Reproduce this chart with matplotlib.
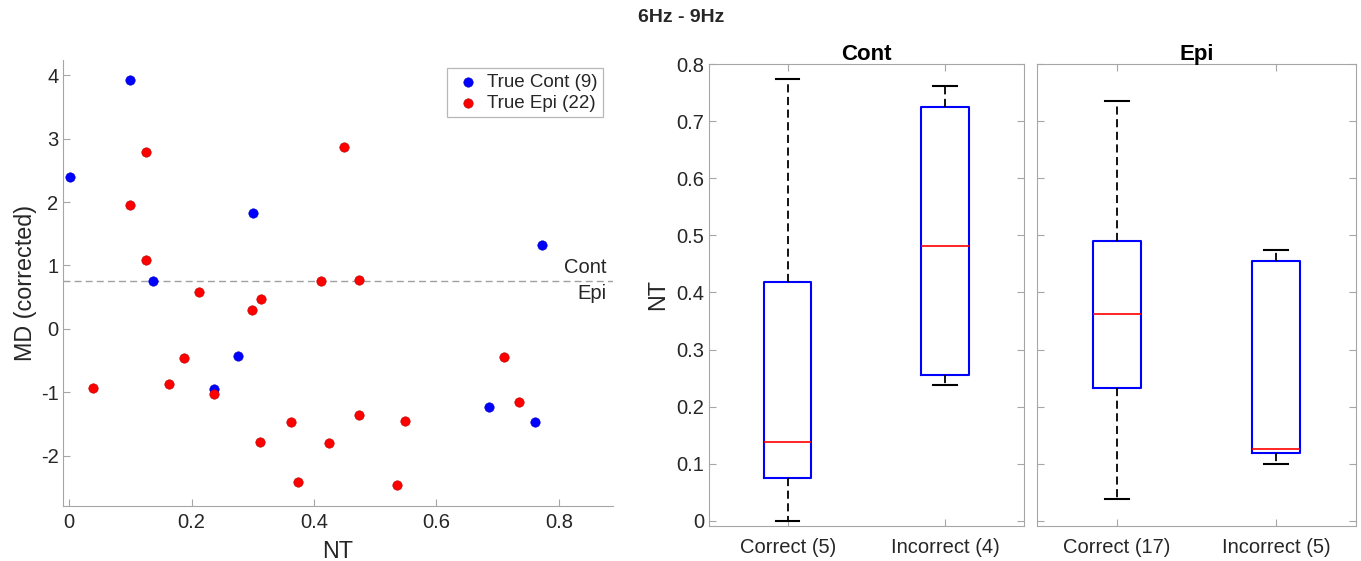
import matplotlib
matplotlib.use("Agg")
import matplotlib.pyplot as plt

plt.rcParams['font.family'] = ['Liberation Sans', 'DejaVu Sans']

# ---------------- data ----------------
cont_nt = [0.001, 0.100, 0.137, 0.300, 0.773, 0.275, 0.237, 0.686, 0.761]
cont_md = [2.39, 3.93, 0.76, 1.83, 1.32, -0.425, -0.945, -1.23, -1.465]

epi_nt = [0.125, 0.100, 0.125, 0.2125, 0.299, 0.313, 0.411, 0.474, 0.449,
          0.038, 0.163, 0.187, 0.237, 0.362, 0.312, 0.374, 0.424, 0.474,
          0.549, 0.536, 0.711, 0.735]
epi_md = [2.79, 1.96, 1.087, 0.588, 0.304, 0.472, 0.76, 0.77, 2.86,
          -0.94, -0.87, -0.46, -1.035, -1.465, -1.78, -2.42, -1.80, -1.36,
          -1.45, -2.46, -0.44, -1.16]

threshold = 0.76
legend_labels = ['True Cont (9)', 'True Epi (22)']

box_titles = ['Cont', 'Epi']
box_xlabels = [['Correct (5)', 'Incorrect (4)'], ['Correct (17)', 'Incorrect (5)']]
box_whislo = [[0.0, 0.238], [0.038, 0.100]]
box_q1 = [[0.0754, 0.256], [0.232, 0.1194]]
box_med = [[0.1378, 0.4815], [0.362, 0.1253]]
box_q3 = [[0.418, 0.7243], [0.4898, 0.456]]
box_whishi = [[0.7735, 0.7616], [0.736, 0.474]]

# ---------------- figure ----------------
W, H = 1361, 561
fig = plt.figure(figsize=(W / 100, H / 100), dpi=100)

def ax_rect(x0, x1, ytop, ybot):
    return [x0 / W, 1 - ybot / H, (x1 - x0) / W, (ybot - ytop) / H]

spine_c = '#a6a6a6'
text_c = '#262626'
fs = 14.5
lfs = 16.8

# scatter
ax = fig.add_axes(ax_rect(63.3, 612.7, 60, 505.7))
ax.scatter(cont_nt, cont_md, s=46, c='#0000ff', edgecolors='#0000c0', linewidths=0.4,
           zorder=3, label=legend_labels[0])
ax.scatter(epi_nt, epi_md, s=46, c='#ff0000', edgecolors='#b00000', linewidths=0.4,
           zorder=3, label=legend_labels[1])
ax.axhline(threshold, color='#a0a0a0', lw=1.0, ls=(0, (5, 3)), zorder=1)
ax.set_xlim(-0.0098, 0.888)
ax.set_ylim(-2.79, 4.24)
ax.set_xticks([0, 0.2, 0.4, 0.6, 0.8])
ax.set_xticklabels(['0', '0.2', '0.4', '0.6', '0.8'])
ax.set_yticks([-2, -1, 0, 1, 2, 3, 4])
ax.set_yticklabels(['-2', '-1', '0', '1', '2', '3', '4'])
for s in ['top', 'right']:
    ax.spines[s].set_visible(False)
for s in ['left', 'bottom']:
    ax.spines[s].set_color(spine_c)
ax.tick_params(direction='in', length=5, color=spine_c, labelsize=fs, labelcolor=text_c)
ax.tick_params(axis='x', pad=5)
ax.set_xlabel('NT', fontsize=lfs, color=text_c, labelpad=6)
ax.set_ylabel('MD (corrected)', fontsize=lfs, color=text_c, labelpad=3)
ax.text(0.8786, threshold + 0.06, 'Cont', ha='right', va='bottom', fontsize=fs, color=text_c)
ax.text(0.8786, threshold - 0.06, 'Epi', ha='right', va='top', fontsize=fs, color=text_c)
leg = ax.legend(loc='upper right', bbox_to_anchor=(0.982, 0.982), borderaxespad=0,
                fontsize=13.5, frameon=True, fancybox=False, handletextpad=0.2,
                handlelength=1.6, borderpad=0.3, labelspacing=0.2, scatterpoints=1)
leg.get_frame().set_edgecolor(spine_c)
leg.get_frame().set_linewidth(0.9)
for t in leg.get_texts():
    t.set_color(text_c)

# box plots
rects = [ax_rect(709, 1023.7, 64.3, 525.7), ax_rect(1037.3, 1356, 64.3, 525.7)]
for i in range(2):
    bax = fig.add_axes(rects[i])
    stats = []
    for j in range(2):
        stats.append(dict(whislo=box_whislo[i][j], q1=box_q1[i][j], med=box_med[i][j],
                          q3=box_q3[i][j], whishi=box_whishi[i][j], fliers=[]))
    bax.bxp(stats, positions=[1, 2], widths=0.3, capwidths=0.15, showfliers=False,
            boxprops=dict(color='#0000ff', lw=1.5),
            medianprops=dict(color='#ff0000', lw=1.2),
            whiskerprops=dict(color='black', lw=1.3, ls=(0, (4.5, 2.5))),
            capprops=dict(color='black', lw=1.5))
    bax.set_xlim(0.5, 2.5)
    bax.set_ylim(-0.0088, 0.8)
    bax.set_yticks([0, 0.1, 0.2, 0.3, 0.4, 0.5, 0.6, 0.7, 0.8])
    bax.set_xticks([1, 2])
    bax.set_xticklabels(box_xlabels[i])
    for s in bax.spines.values():
        s.set_color(spine_c)
    bax.tick_params(direction='in', length=5, color=spine_c, labelsize=fs,
                    labelcolor=text_c, top=True, right=True)
    bax.tick_params(axis='x', pad=9)
    if i == 0:
        bax.set_yticklabels(['0', '0.1', '0.2', '0.3', '0.4', '0.5', '0.6', '0.7', '0.8'])
        bax.set_ylabel('NT', fontsize=lfs, color=text_c, labelpad=5)
    else:
        bax.set_yticklabels([])
    bax.set_title(box_titles[i], fontsize=16, fontweight='bold', color='black', pad=3)

fig.text(680.8 / W, 1 - 17 / H, '6Hz - 9Hz', ha='center', va='center',
         fontsize=14, fontweight='bold', color=text_c)

fig.savefig('out.png', dpi=100)
